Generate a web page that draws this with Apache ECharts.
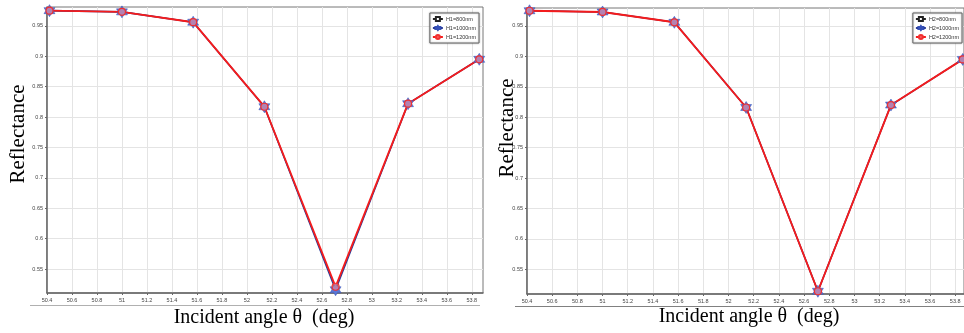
<!DOCTYPE html>
<html>
<head>
<meta charset="utf-8">
<script src="https://cdn.jsdelivr.net/npm/echarts@6/dist/echarts.min.js"></script>
<style>
html,body{margin:0;padding:0;background:#fff;}
#main{width:964px;height:333px;}
</style>
</head>
<body>
<div id="main"></div>
<script>
// ---- data ----
const angles = [50.42, 51.0, 51.57, 52.14, 52.71, 53.29, 53.86];
const H1_800  = [0.975, 0.973, 0.956, 0.817, 0.518, 0.822, 0.895];
const H1_1000 = [0.975, 0.973, 0.956, 0.817, 0.516, 0.822, 0.895];
const H1_1200 = [0.975, 0.973, 0.956, 0.817, 0.521, 0.822, 0.895];
const H2_800  = [0.975, 0.973, 0.956, 0.816, 0.514, 0.820, 0.895];
const H2_1000 = [0.975, 0.973, 0.956, 0.816, 0.514, 0.820, 0.895];
const H2_1200 = [0.975, 0.973, 0.956, 0.816, 0.514, 0.820, 0.895];
const xTicks = [50.4,50.6,50.8,51,51.2,51.4,51.6,51.8,52,52.2,52.4,52.6,52.8,53,53.2,53.4,53.6,53.8];
const yTicks = [0.55,0.6,0.65,0.7,0.75,0.8,0.85,0.9,0.95];
const namesLeft = ['H1=800nm','H1=1000nm','H1=1200nm'];
const namesRight = ['H2=800nm','H2=1000nm','H2=1200nm'];
const yTitle = 'Reflectance';
const xTitle = 'Incident angle θ  (deg)';

const hexagram = 'path://M100,0 L71,50 L13,50 L42,100 L13,150 L71,150 L100,200 L129,150 L187,150 L158,100 L187,50 L129,50 Z';
const pair = (ys) => angles.map((a, i) => [a, ys[i]]);

function xAxis(gi, max) {
  return {
    type: 'value', gridIndex: gi, min: 50.4, max: max,
    axisLine: {show: true, onZero: false, lineStyle: {color: '#666', width: 1.5}},
    axisTick: {show: true, length: 2, customValues: xTicks, lineStyle: {color: '#666'}},
    axisLabel: {customValues: xTicks, fontSize: 5.5, color: '#444', margin: 4,
      formatter: v => String(+v.toFixed(1))},
    splitLine: {show: true, lineStyle: {color: '#e4e4e4', width: 1}}
  };
}
function yAxis(gi, min, max) {
  return {
    type: 'value', gridIndex: gi, min: min, max: max,
    axisLine: {show: true, onZero: false, lineStyle: {color: '#666', width: 1.5}},
    axisTick: {show: true, length: 2, customValues: yTicks, lineStyle: {color: '#666'}},
    axisLabel: {customValues: yTicks, fontSize: 5.5, color: '#444', margin: 4,
      formatter: v => String(+v.toFixed(2))},
    splitLine: {show: true, lineStyle: {color: '#e4e4e4', width: 1}}
  };
}
function makeSeries(names, data, gi) {
  return [
    {name: names[0], type: 'line', xAxisIndex: gi, yAxisIndex: gi, data: pair(data[0]),
     symbol: 'rect', symbolSize: 5, showAllSymbol: true,
     lineStyle: {color: '#222', width: 1},
     itemStyle: {color: '#fff', borderColor: '#222', borderWidth: 1}},
    {name: names[1], type: 'line', xAxisIndex: gi, yAxisIndex: gi, data: pair(data[1]),
     symbol: hexagram, symbolSize: [11, 12],
     lineStyle: {color: '#2a3d9a', width: 1.6},
     itemStyle: {color: '#5876d6', borderColor: '#3550b8', borderWidth: 0.5}},
    {name: names[2], type: 'line', xAxisIndex: gi, yAxisIndex: gi, data: pair(data[2]),
     symbol: 'circle', symbolSize: 7,
     lineStyle: {color: '#f51c1c', width: 1.9},
     itemStyle: {color: 'rgba(255,140,150,0.55)', borderColor: '#f03030', borderWidth: 1.2}}
  ];
}
function legend(names, right) {
  return {
    data: names, right: right, top: 13, orient: 'vertical',
    itemWidth: 10, itemHeight: 5, itemGap: 3,
    padding: [3, 3, 3, 2],
    backgroundColor: '#fff', borderColor: '#666', borderWidth: 1,
    shadowColor: 'rgba(0,0,0,0.3)', shadowBlur: 2,
    textStyle: {fontSize: 5.5, color: '#333', padding: [0, 0, 0, -2]}
  };
}

const chart = echarts.init(document.getElementById('main'), null, {renderer: 'canvas'});
chart.setOption({
  animation: false,
  backgroundColor: '#fff',
  grid: [
    {left: 47, top: 7, width: 436, height: 286, show: true, borderColor: '#777', borderWidth: 1},
    {left: 527, top: 8, width: 437, height: 286, show: true, borderColor: '#777', borderWidth: 1}
  ],
  xAxis: [xAxis(0, 53.89), xAxis(1, 53.87)],
  yAxis: [yAxis(0, 0.5107, 0.981), yAxis(1, 0.5095, 0.9795)],
  legend: [legend(namesLeft, 485), legend(namesRight, 2)],
  series: [
    ...makeSeries(namesLeft, [H1_800, H1_1000, H1_1200], 0),
    ...makeSeries(namesRight, [H2_800, H2_1000, H2_1200], 1)
  ],
  graphic: [
    {type: 'line', shape: {x1: 30, y1: 305.5, x2: 480, y2: 305.5}, style: {stroke: '#b0b0b0', lineWidth: 1}},
    {type: 'line', shape: {x1: 515, y1: 306.5, x2: 964, y2: 306.5}, style: {stroke: '#808080', lineWidth: 1}},
    {type: 'text', x: 18, y: 134, rotation: Math.PI / 2,
     style: {text: yTitle, font: '21px "Liberation Serif"', align: 'center', verticalAlign: 'middle', fill: '#000'}},
    {type: 'text', x: 507, y: 128, rotation: Math.PI / 2,
     style: {text: yTitle, font: '21px "Liberation Serif"', align: 'center', verticalAlign: 'middle', fill: '#000'}},
    {type: 'text', x: 264, y: 318,
     style: {text: xTitle, font: '20px "Liberation Serif"', align: 'center', verticalAlign: 'middle', fill: '#000'}},
    {type: 'text', x: 749, y: 317,
     style: {text: xTitle, font: '20px "Liberation Serif"', align: 'center', verticalAlign: 'middle', fill: '#000'}}
  ]
});
</script>
</body>
</html>
